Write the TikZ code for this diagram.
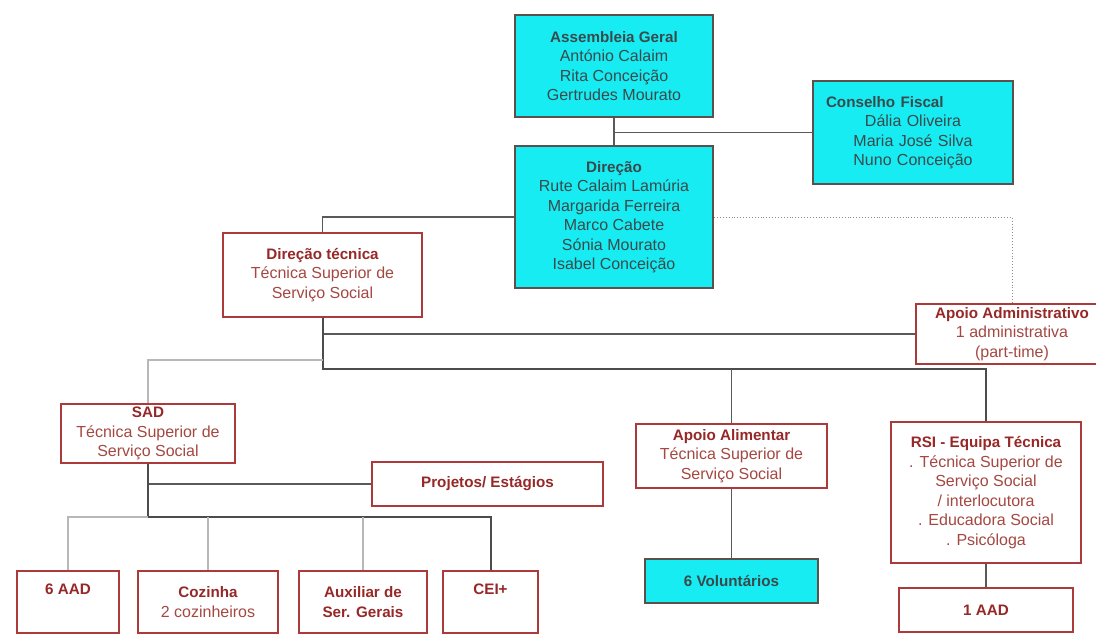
\documentclass[tikz,border=0pt]{standalone}
\usepackage{fontspec}
\setmainfont{Liberation Sans}
\usetikzlibrary{positioning}
\definecolor{boxcyan}{RGB}{22,236,242}
\definecolor{cyanedge}{RGB}{92,80,76}
\definecolor{cyantext}{RGB}{58,74,76}
\definecolor{rededge}{RGB}{172,58,58}
\definecolor{redtitle}{RGB}{150,40,40}
\definecolor{redbody}{RGB}{165,72,66}
\colorlet{linedark}{black!65}
\colorlet{linelight}{black!28}
\newcommand{\hd}[1]{{\fontsize{15.2}{19.5}\selectfont\bfseries #1}}
\newcommand{\rt}[1]{\textcolor{redtitle}{\fontsize{15.2}{19.5}\selectfont\bfseries #1}}
\tikzset{
  orgbox/.style={draw, line width=2.3pt, inner sep=0pt, align=center},
  cyanbox/.style={orgbox, fill=boxcyan, draw=cyanedge, text=cyantext},
  redbox/.style={orgbox, fill=white, draw=rededge, text=redbody}
}

\begin{document}
\begin{tikzpicture}[x=1pt, y=-1pt, font=\fontsize{16}{19.5}\selectfont,
  link/.style={draw=linedark, line width=1.3pt},
  heavy/.style={line width=2pt, draw=black!70},
  faint/.style={draw=linelight, line width=1.6pt},
  dotlink/.style={draw=black!45, line width=0.9pt, dotted}]

    \path[use as bounding box, clip] (0,0) rectangle (1096,634);

    % Board
    \node[cyanbox, minimum width=198, minimum height=102] (ag) at (614,66)
        {\hd{Assembleia Geral}\\António Calaim\\Rita Conceição\\Gertrudes Mourato};
    \node[cyanbox, minimum width=200, minimum height=103, text width=174] (cf) at (913,132.5)
        {\makebox[174pt][l]{\hd{Conselho Fiscal}}\\Dália Oliveira\\Maria José Silva\\Nuno Conceição};
    \node[cyanbox, minimum width=198, minimum height=142] (dir) at (614,217)
        {\hd{Direção}\\Rute Calaim Lamúria\\Margarida Ferreira\\Marco Cabete\\Sónia Mourato\\Isabel Conceição};

    % Technical staff
    \node[redbox, minimum width=199, minimum height=84] (dt) at (322.5,275)
        {\rt{Direção técnica}\\Técnica Superior de\\Serviço Social};
    \node[redbox, minimum width=192, minimum height=60] (adm) at (1012,334)
        {\rt{Apoio Administrativo}\\1 administrativa\\(part-time)};
    \node[redbox, minimum width=174, minimum height=59] (sad) at (148,433.5)
        {\rt{SAD}\\Técnica Superior de\\Serviço Social};
    \node[redbox, minimum width=191, minimum height=64] (aa) at (731.5,456)
        {\rt{Apoio Alimentar}\\Técnica Superior de\\Serviço Social};
    \node[redbox, minimum width=190, minimum height=141] (rsi) at (986,492.5)
        {\rt{RSI - Equipa Técnica}\\. Técnica Superior de\\Serviço Social\\/ interlocutora\\. Educadora Social\\. Psicóloga};
    \node[redbox, minimum width=231, minimum height=44] (proj) at (487.5,484)
        {\rt{Projetos/ Estágios}};

    % Bottom row
    \node[redbox, minimum width=102, minimum height=62] (aad6) at (68,602) {\rt{6 AAD}\\\strut};
    \node[redbox, minimum width=140, minimum height=62] (coz) at (208,602) {\rt{Cozinha}\\2 cozinheiros};
    \node[redbox, minimum width=128, minimum height=62] (aux) at (363,602) {\rt{Auxiliar de}\\\rt{Ser. Gerais}};
    \node[redbox, minimum width=95, minimum height=62] (cei) at (490.5,602) {\rt{CEI+}\\\strut};
    \node[cyanbox, minimum width=173, minimum height=44] (vol) at (731.5,581) {\hd{6 Voluntários}};
    \node[redbox, minimum width=174, minimum height=44] (aad1) at (986,610) {\rt{1 AAD}};

    % Connectors
    \coordinate (busA) at (322.5,360);
    \coordinate (busB) at (322.5,369);
    \coordinate (busC) at (148,517);

    \draw[link] (ag) -- (dir);
    \draw[link] (ag.south |- cf.west) -- (cf.west);
    \draw[link] (dir.west) -| (dt.north);
    \draw[dotlink] (dir.east) -| (adm.north);

    \draw[link] (dt.south |- adm.west) -- (adm.west);
    \draw[link, heavy] (dt.south) -- (busB) -| (rsi.north);
    \draw[link] (busB -| aa.north) -- (aa.north);
    \draw[faint] (busA) -| (sad.north);
    \draw[link] (aa) -- (vol);
    \draw[link] (rsi) -- (aad1);

    \draw[link] (sad.south |- proj.west) -- (proj.west);
    \draw[link, heavy] (sad.south) -- (busC) -| (cei.north);
    \draw[faint] (busC) -| (aad6.north);
    \draw[faint] (busC -| coz.north) -- (coz.north);
    \draw[faint] (busC -| aux.north) -- (aux.north);
\end{tikzpicture}
\end{document}
